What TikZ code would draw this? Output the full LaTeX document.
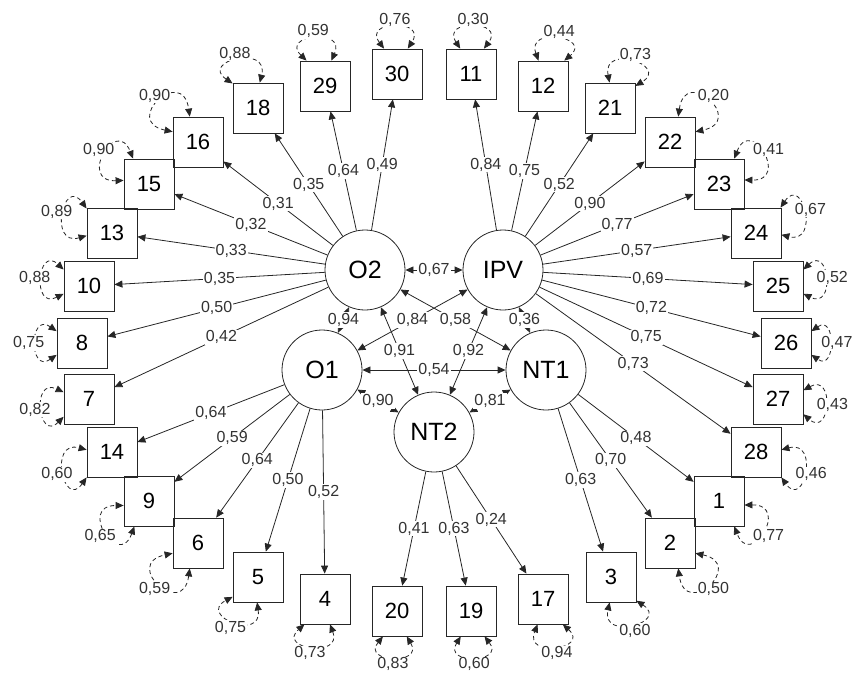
\documentclass[tikz,border=0pt]{standalone}
\usepackage{fontspec}
\setmainfont{Liberation Sans}
\usetikzlibrary{arrows.meta}

\tikzset{
	ind/.style={draw=black!85, line width=0.8pt, minimum size=50pt, inner sep=0pt, font=\fontsize{22}{25}\selectfont},
	lat/.style={draw=black!85, line width=0.8pt, circle, minimum size=80pt, inner sep=0pt, font=\fontsize{25}{29}\selectfont},
	load/.style={draw=black!85, line width=0.8pt, -{Triangle[length=8pt,width=7pt]}},
	cov/.style={draw=black!85, line width=0.8pt, {Triangle[length=8pt,width=7pt]}-{Triangle[length=8pt,width=7pt]}},
	resid/.style={draw=black!85, line width=0.8pt, dash pattern=on 4pt off 3pt, {Triangle[length=8pt,width=7pt]}-{Triangle[length=8pt,width=7pt]}},
	val/.style={fill=white, inner sep=1pt, text=black!80, font=\fontsize{16}{18}\selectfont},
}

\newcommand{\resloop}[4]{
	\pgfmathtruncatemacro{\RLa}{mod(#2+25+360,360)}
	\pgfmathtruncatemacro{\RLb}{mod(#2-25+360,360)}
	\pgfmathtruncatemacro{\RLout}{#2+35}
	\pgfmathtruncatemacro{\RLin}{#2-35}
	\draw[resid] (#1.\RLa) to[out=\RLout, in=\RLin, distance=#4pt] node[val, shift={(#2:7pt)}] {#3} (#1.\RLb);
}

\begin{document}
\begin{tikzpicture}[x=1pt, y=1pt]
\useasboundingbox (0,0) rectangle (853,-673);

% latent variables
\node[lat] (O2) at (365,-270) {O2};
\node[lat] (IPV) at (503,-270) {IPV};
\node[lat] (O1) at (322,-370) {O1};
\node[lat] (NT1) at (546,-370) {NT1};
\node[lat] (NT2) at (434,-432) {NT2};

% items, left half
\node[ind] (b30) at (397,-74) {30};
\node[ind] (b29) at (325,-86) {29};
\node[ind] (b18) at (258,-108) {18};
\node[ind] (b16) at (198,-142) {16};
\node[ind] (b15) at (149,-184) {15};
\node[ind] (b13) at (112,-233) {13};
\node[ind] (b10) at (89,-286) {10};
\node[ind] (b8) at (82,-343) {8};
\node[ind] (b7) at (89,-399) {7};
\node[ind] (b14) at (112,-452) {14};
\node[ind] (b9) at (149,-501) {9};
\node[ind] (b6) at (198,-543) {6};
\node[ind] (b5) at (258,-577) {5};
\node[ind] (b4) at (325,-599) {4};
\node[ind] (b20) at (397,-611) {20};

% items, right half
\node[ind] (b19) at (471,-611) {19};
\node[ind] (b17) at (543,-599) {17};
\node[ind] (b3) at (611,-577) {3};
\node[ind] (b2) at (670,-543) {2};
\node[ind] (b1) at (719,-501) {1};
\node[ind] (b28) at (756,-452) {28};
\node[ind] (b27) at (778,-399) {27};
\node[ind] (b26) at (786,-343) {26};
\node[ind] (b25) at (778,-286) {25};
\node[ind] (b24) at (756,-233) {24};
\node[ind] (b23) at (719,-184) {23};
\node[ind] (b22) at (670,-142) {22};
\node[ind] (b21) at (610,-108) {21};
\node[ind] (b12) at (543,-86) {12};
\node[ind] (b11) at (471,-74) {11};

% loadings
\draw[load] (O2) -- node[val] {0,49} (b30);
\draw[load] (O2) -- node[val] {0,64} (b29);
\draw[load] (O2) -- node[val] {0,35} (b18);
\draw[load] (O2) -- node[val] {0,31} (b16);
\draw[load] (O2) -- node[val] {0,32} (b15);
\draw[load] (O2) -- node[val] {0,33} (b13);
\draw[load] (O2) -- node[val] {0,35} (b10);
\draw[load] (O2) -- node[val] {0,50} (b8);
\draw[load] (O2) -- node[val] {0,42} (b7);

\draw[load] (O1) -- node[val] {0,64} (b14);
\draw[load] (O1) -- node[val] {0,59} (b9);
\draw[load] (O1) -- node[val] {0,64} (b6);
\draw[load] (O1) -- node[val] {0,50} (b5);
\draw[load] (O1) -- node[val] {0,52} (b4);

\draw[load] (NT2) -- node[val] {0,41} (b20);
\draw[load] (NT2) -- node[val] {0,63} (b19);
\draw[load] (NT2) -- node[val] {0,24} (b17);

\draw[load] (NT1) -- node[val] {0,63} (b3);
\draw[load] (NT1) -- node[val] {0,70} (b2);
\draw[load] (NT1) -- node[val] {0,48} (b1);

\draw[load] (IPV) -- node[val] {0,84} (b11);
\draw[load] (IPV) -- node[val] {0,75} (b12);
\draw[load] (IPV) -- node[val] {0,52} (b21);
\draw[load] (IPV) -- node[val] {0,90} (b22);
\draw[load] (IPV) -- node[val] {0,77} (b23);
\draw[load] (IPV) -- node[val] {0,57} (b24);
\draw[load] (IPV) -- node[val] {0,69} (b25);
\draw[load] (IPV) -- node[val] {0,72} (b26);
\draw[load] (IPV) -- node[val] {0,75} (b27);
\draw[load] (IPV) -- node[val] {0,73} (b28);

% covariances
\draw[cov] (O2) -- node[val] {0,67} (IPV);
\draw[cov] (O2) -- node[val] {0,94} (O1);
\draw[cov] (IPV) -- node[val] {0,36} (NT1);
\draw[cov] (O1) -- node[val] {0,84} (IPV);
\draw[cov] (O2) -- node[val] {0,58} (NT1);
\draw[cov] (O2) -- node[val] {0,91} (NT2);
\draw[cov] (IPV) -- node[val] {0,92} (NT2);
\draw[cov] (O1) -- node[val] {0,54} (NT1);
\draw[cov] (O1) -- node[val] {0,90} (NT2);
\draw[cov] (NT1) -- node[val] {0,81} (NT2);

% residuals
\resloop{b30}{92}{0,76}{36}
\resloop{b29}{101}{0,59}{37}
\resloop{b18}{111}{0,88}{40}
\resloop{b16}{133}{0,90}{52}
\resloop{b15}{147}{0,90}{46}
\resloop{b13}{161}{0,89}{40}
\resloop{b10}{172}{0,88}{36}
\resloop{b8}{180}{0,75}{34}
\resloop{b7}{190}{0,82}{36}
\resloop{b14}{200}{0,60}{40}
\resloop{b9}{215}{0,65}{46}
\resloop{b6}{227}{0,59}{52}
\resloop{b5}{243}{0,75}{40}
\resloop{b4}{256}{0,73}{37}
\resloop{b20}{266}{0,83}{34}
\resloop{b19}{273}{0,60}{34}
\resloop{b17}{283}{0,94}{37}
\resloop{b3}{292}{0,60}{40}
\resloop{b2}{313}{0,50}{52}
\resloop{b1}{326}{0,77}{46}
\resloop{b28}{340}{0,46}{40}
\resloop{b27}{354}{0,43}{36}
\resloop{b26}{360}{0,47}{30}
\resloop{b25}{368}{0,52}{36}
\resloop{b24}{381}{0,67}{40}
\resloop{b23}{34}{0,41}{46}
\resloop{b22}{47}{0,20}{52}
\resloop{b21}{66}{0,73}{40}
\resloop{b12}{75}{0,44}{37}
\resloop{b11}{88}{0,30}{36}
\end{tikzpicture}
\end{document}
